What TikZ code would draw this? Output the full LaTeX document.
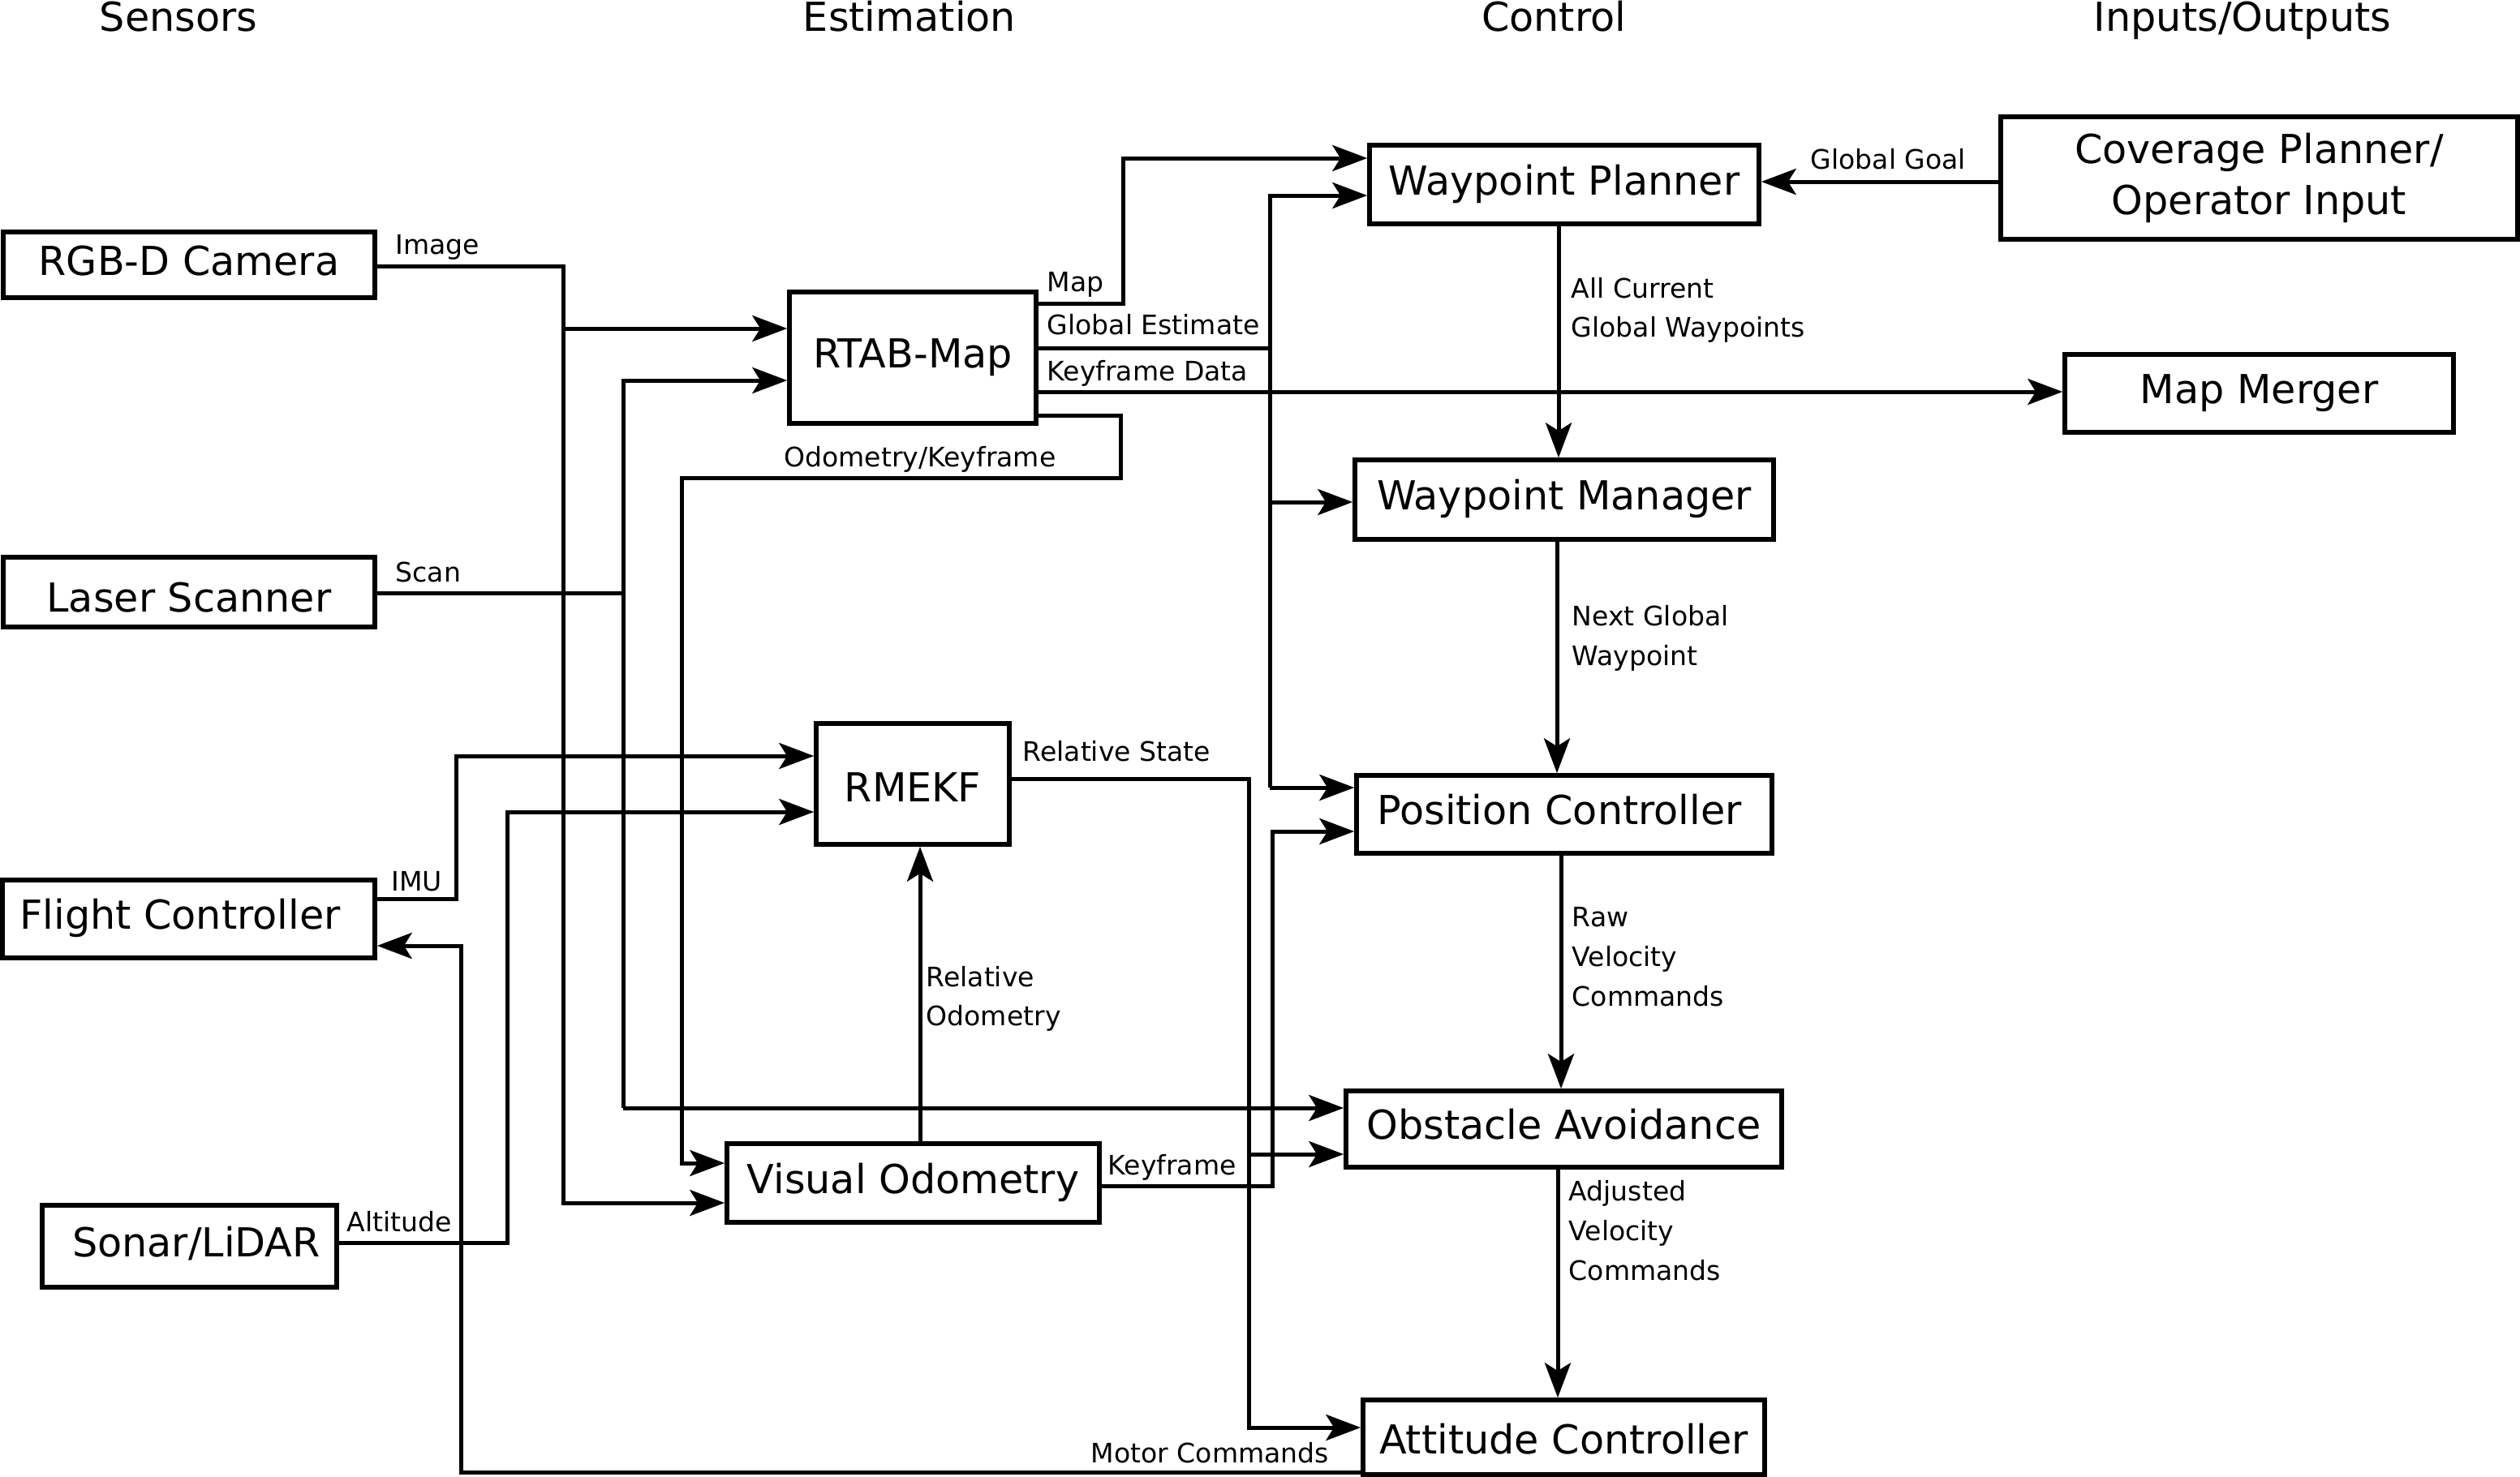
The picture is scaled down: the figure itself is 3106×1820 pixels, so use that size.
\documentclass[tikz,border=0pt]{standalone}
\usepackage{fontspec}
\setmainfont{DejaVu Sans}
\usetikzlibrary{arrows.meta}
\tikzset{
  boxbase/.style={draw, line width=1.6pt, rectangle, inner sep=0pt, align=center},
  box/.style={boxbase, font=\fontsize{14}{17}\selectfont, text height=10.64pt, text depth=3.36pt},
  lbl/.style={font=\fontsize{9.4}{11}\selectfont, inner sep=0pt, anchor=base west},
  hd/.style={font=\fontsize{14}{17}\selectfont, inner sep=0pt, anchor=base},
  conn/.style={line width=1.42pt},
  arr/.style={conn, -{Stealth[length=12.2pt,width=9.1pt,inset=2.8pt]}},
}
\newcommand\mkbox[7][]{\node[box,#1,minimum width=#5*0.01cm, minimum height=#6*0.01cm] (#2) at (#3,#4) {#7};}
\begin{document}
\begin{tikzpicture}[x=0.01cm, y=-0.01cm]
\useasboundingbox (0,0) rectangle (3106,1820);
% headings
\node[hd] (hsens) at (220,38) {Sensors};
\node[hd] (hest) at (1121,38) {Estimation};
\node[hd] (hctl) at (1915,38) {Control};
\node[hd] (hio) at (2764,38) {Inputs/Outputs};
% boxes
\mkbox{rgb}{233}{326.5}{458}{81}{RGB-D Camera}
\mkbox[text height=13.65pt, text depth=0pt]{laser}{233}{730}{458}{86}{Laser Scanner}
\mkbox{fc}{232.5}{1133}{459}{96}{Flight Controller\rule{0.21cm}{0pt}}
\mkbox{sonar}{233.5}{1536.5}{363}{101}{\rule{0.17cm}{0pt}Sonar/LiDAR}
\mkbox{rtab}{1125}{441}{304}{162}{RTAB-Map}
\mkbox[text height=12.5pt, text depth=0pt]{rmekf}{1125}{966.5}{238}{149}{RMEKF}
\mkbox{vo}{1125.5}{1458.5}{459}{97}{Visual Odometry}
\mkbox{wpp}{1928}{227.5}{480}{97}{Waypoint Planner}
\mkbox{wpm}{1928}{616}{516}{98}{Waypoint Manager}
\mkbox{pos}{1928}{1004}{512}{96}{Position Controller\rule{0.12cm}{0pt}}
\mkbox{oa}{1927.5}{1392}{537}{94}{Obstacle Avoidance}
\mkbox[text height=11.4pt, text depth=0pt]{att}{1927.5}{1772}{495}{92}{Attitude Controller}
\node[boxbase, font=\fontsize{14}{17.9}\selectfont, minimum width=637*0.01cm, minimum height=151*0.01cm] (cov) at (2784.5,219.5) {Coverage Planner/\\Operator Input};
\mkbox{mm}{2784.5}{485}{479}{96}{Map Merger}
% junction coordinates
\coordinate (jimg) at (694,405);
\coordinate (jscan) at (768,731);
\coordinate (jge) at (1565,429);
\coordinate (jrs) at (1539,1423);
% Image
\draw[arr] (rgb.east |- 0,328) -| (694,1483) -- (vo.west |- 0,1483);
\draw[arr] (jimg) -- (rtab.west |- 0,405);
% Scan
\draw[conn] (laser.east |- 0,731) -- (jscan);
\draw[arr] (768,1366) -- (768,469) -- (rtab.west |- 0,469);
\draw[arr] (768,1366) -- (oa.west |- 0,1366);
% Odometry/Keyframe
\draw[arr] (rtab.east |- 0,512) -- (1381,512) -- (1381,589) -- (840,589) -- (840,1434) -- (vo.west |- 0,1434);
% Map
\draw[arr] (rtab.east |- 0,374) -- (1384,374) -- (1384,195) -- (wpp.west |- 0,195);
% Global Estimate
\draw[conn] (rtab.east |- 0,429) -- (jge);
\draw[arr] (1565,971) -- (1565,241) -- (wpp.west |- 0,241);
\draw[arr] (1565,619) -- (wpm.west |- 0,619);
\draw[arr] (1565,971) -- (pos.west |- 0,971);
% Keyframe Data
\draw[arr] (rtab.east |- 0,483) -- (mm.west |- 0,483);
% Global Goal
\draw[arr] (cov.west |- 0,224) -- (wpp.east |- 0,224);
% control chain
\draw[arr] (wpp.south -| 1921,0) -- (wpm.north -| 1921,0);
\draw[arr] (wpm.south -| 1919,0) -- (pos.north -| 1919,0);
\draw[arr] (pos.south -| 1924,0) -- (oa.north -| 1924,0);
\draw[arr] (oa.south -| 1920,0) -- (att.north -| 1920,0);
% IMU
\draw[arr] (fc.east |- 0,1108) -- (562,1108) -- (562,932) -- (rmekf.west |- 0,932);
% Altitude
\draw[arr] (sonar.east |- 0,1532) -- (625,1532) -- (625,1001) -- (rmekf.west |- 0,1001);
% Relative Odometry
\draw[arr] (vo.north -| 1134,0) -- (rmekf.south -| 1134,0);
% Relative State
\draw[arr] (rmekf.east |- 0,960) -- (1539,960) -- (1539,1760) -- (att.west |- 0,1760);
\draw[arr] (jrs) -- (oa.west |- 0,1423);
% Keyframe
\draw[arr] (vo.east |- 0,1462) -- (1568,1462) -- (1568,1025) -- (pos.west |- 0,1025);
% Motor Commands
\draw[arr] (att.west |- 0,1815) -- (568,1815) -- (568,1166) -- (fc.east |- 0,1166);
% labels
\node[lbl] (limg) at (487,313) {Image};
\node[lbl] (lscan) at (487,717) {Scan};
\node[lbl] (limu) at (482,1098) {IMU};
\node[lbl] (lalt) at (427,1518) {Altitude};
\node[lbl] (lmap) at (1290,359) {Map};
\node[lbl] (lge) at (1290,412) {Global Estimate};
\node[lbl] (lkd) at (1290,469) {Keyframe Data};
\node[lbl, anchor=base] (lok) at (1134,575) {Odometry/Keyframe};
\node[lbl] (lgg) at (2231,208) {Global Goal};
\node[lbl] (lac1) at (1936,367) {All Current};
\node[lbl] (lac2) at (1936,415) {Global Waypoints};
\node[lbl] (lng1) at (1937,771) {Next Global};
\node[lbl] (lng2) at (1937,820) {Waypoint};
\node[lbl] (lrs) at (1260,938) {Relative State};
\node[lbl] (lro1) at (1141,1216) {Relative};
\node[lbl] (lro2) at (1141,1264) {Odometry};
\node[lbl] (lrv1) at (1937,1142) {Raw};
\node[lbl] (lrv2) at (1937,1191) {Velocity};
\node[lbl] (lrv3) at (1937,1240) {Commands};
\node[lbl] (lav1) at (1933,1480) {Adjusted};
\node[lbl] (lav2) at (1933,1529) {Velocity};
\node[lbl] (lav3) at (1933,1578) {Commands};
\node[lbl] (lkf) at (1365,1448) {Keyframe};
\node[lbl] (lmc) at (1344,1803) {Motor Commands};
\end{tikzpicture}
\end{document}
